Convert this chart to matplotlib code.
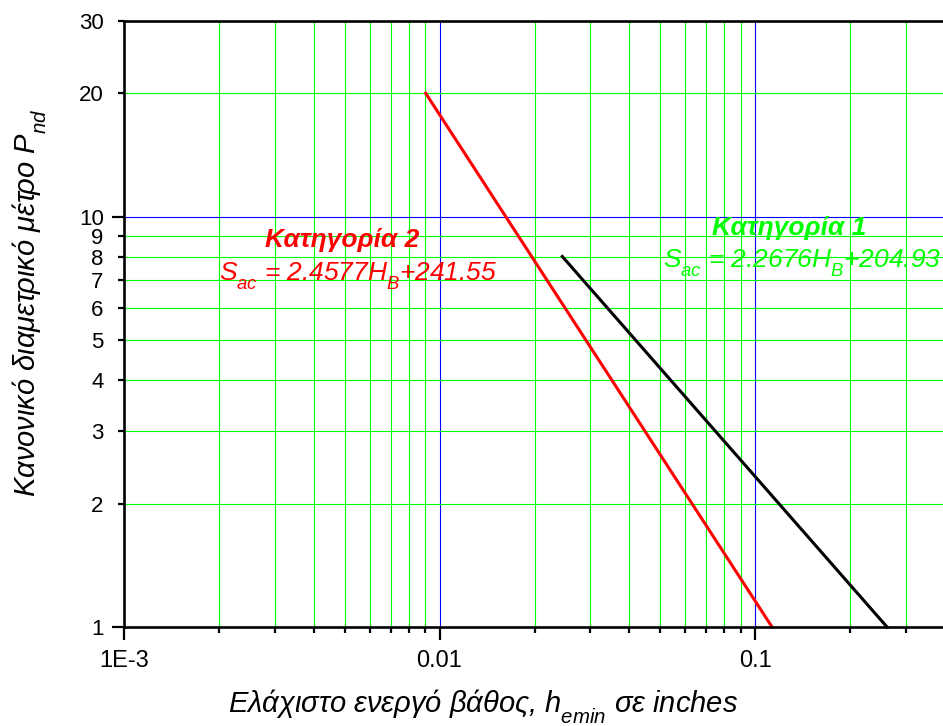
import matplotlib
matplotlib.use("Agg")
import matplotlib.pyplot as plt
from matplotlib.ticker import FixedLocator, NullFormatter

# Line end points (x in inches, y = P_nd)
cat2_x = [0.00904, 0.1132]
cat2_y = [20, 1]
black_x = [0.0245, 0.262]
black_y = [8, 1]

y_major = [1, 10]
y_minor = [2, 3, 4, 5, 6, 7, 8, 9, 20, 30]
x_major = [1e-3, 1e-2, 1e-1]
x_major_labels = ["1E-3", "0.01", "0.1"]
x_minor = [k * d for d in (1e-3, 1e-2, 1e-1) for k in range(2, 10)]

W, H = 943, 726


def fx(px):
    return px / W


def fy(py):
    return 1 - py / H


def configure_plot():
    plt.rcParams.update({
        "font.family": ["Liberation Sans", "DejaVu Sans"],
        "mathtext.fontset": "custom",
        "mathtext.rm": "Liberation Sans",
        "mathtext.it": "Liberation Sans:italic",
        "mathtext.bf": "Liberation Sans:bold:italic",
    })
    # drop subscripts a bit lower than the mathtext default
    try:
        import matplotlib._mathtext as mt
        mt.FontConstantsBase.sub1 = 0.7
        mt.FontConstantsBase.sub2 = 0.8
    except Exception:
        pass


def main():
    configure_plot()
    fig = plt.figure(figsize=(W / 100, H / 100), dpi=100)
    ax = fig.add_axes([fx(124), fy(627), (945 - 124) / W, (627 - 21) / H])
    ax.set_xscale("log")
    ax.set_yscale("log")
    ax.set_xlim(1e-3, 0.4)
    ax.set_ylim(1, 30)

    # grid: green minor, blue at decades
    for v in x_minor:
        if v < 0.4:
            ax.axvline(v, color="#00ff00", lw=0.8, zorder=1)
    for v in x_major[1:]:
        ax.axvline(v, color="#0000ff", lw=0.8, zorder=1)
    for v in y_minor:
        ax.axhline(v, color="#00ff00", lw=0.8, zorder=1)
    ax.axhline(10, color="#0000ff", lw=0.8, zorder=1)

    ax.plot(cat2_x, cat2_y, color="#ff0000", lw=2.2, zorder=3, clip_on=False)
    ax.plot(black_x, black_y, color="black", lw=2.2, zorder=3, clip_on=False)

    ax.xaxis.set_major_locator(FixedLocator(x_major))
    ax.set_xticklabels(x_major_labels)
    ax.xaxis.set_minor_locator(FixedLocator([v for v in x_minor if v < 0.4]))
    ax.xaxis.set_minor_formatter(NullFormatter())
    ax.yaxis.set_major_locator(FixedLocator(y_major))
    ax.set_yticklabels(["1", "10"])
    ax.yaxis.set_minor_locator(FixedLocator(y_minor))
    ax.yaxis.set_minor_formatter(plt.FixedFormatter([str(v) for v in y_minor]))

    ax.tick_params(axis="x", which="major", length=9.5, width=1.6, pad=7, labelsize=17)
    ax.tick_params(axis="x", which="minor", length=4.5, width=1.6)
    ax.tick_params(axis="y", which="major", length=8.6, width=1.6, pad=6, labelsize=16)
    ax.tick_params(axis="y", which="minor", length=4.3, width=1.6, pad=10.3, labelsize=16)

    for s in ("left", "bottom", "top"):
        ax.spines[s].set_linewidth(1.9)
        ax.spines[s].set_zorder(4)
    ax.spines["right"].set_visible(False)

    # equation labels
    fig.text(fx(342), fy(247), "Κατηγορία 2", color="#ff0000", fontsize=19,
             fontweight="bold", fontstyle="italic", ha="center", va="baseline")
    fig.text(fx(358), fy(280), r"$S_{ac}$ = 2.4577$H_{B}$+241.55", color="#ff0000",
             fontsize=19, fontstyle="italic", ha="center", va="baseline")
    fig.text(fx(789), fy(235), "Κατηγορία 1", color="#00ff00", fontsize=19,
             fontweight="bold", fontstyle="italic", ha="center", va="baseline")
    fig.text(fx(802), fy(267), r"$S_{ac}$ = 2.2676$H_{B}$+204.93", color="#00ff00",
             fontsize=19, fontstyle="italic", ha="center", va="baseline")

    fig.text(fx(483), fy(713), r"Ελάχιστο ενεργό βάθος, $h_{emin}$ σε inches",
             fontsize=21, fontstyle="italic", ha="center", va="baseline")
    fig.text(fx(30), fy(303), r"Κανονικό διαμετρικό μέτρο $P_{nd}$",
             fontsize=21, fontstyle="italic", ha="center", va="center", rotation=90)

    fig.savefig("out.png", dpi=100)


if __name__ == "__main__":
    main()
